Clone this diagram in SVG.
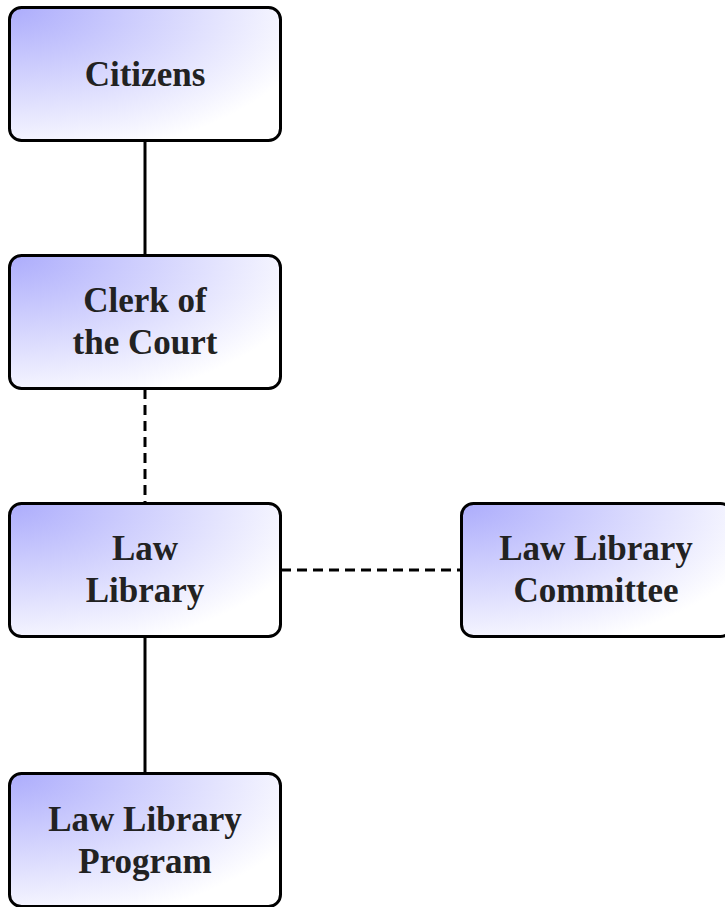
<svg xmlns="http://www.w3.org/2000/svg" width="725" height="907" viewBox="0 0 725 907">
<style>
.box{fill:url(#g);stroke:#000;stroke-width:3}
.t{font-family:"Liberation Serif","Times New Roman",serif;font-weight:bold;font-size:35px;fill:#222;text-anchor:middle}
.c{stroke:#000;stroke-width:3;fill:none}
.d{stroke-dasharray:10,6}
</style>
<defs>
<radialGradient id="g" cx="0" cy="0" fx="0" fy="0" r="1.15">
<stop offset="0" stop-color="#acacfc"/>
<stop offset="1" stop-color="#ffffff"/>
</radialGradient>
</defs>
<g id="connectors">
<line class="c" x1="145" y1="141" x2="145" y2="255"/>
<line class="c d" x1="145" y1="389" x2="145" y2="503"/>
<line class="c" x1="145" y1="637" x2="145" y2="773"/>
<line class="c d" x1="281" y1="570" x2="461" y2="570"/>
</g>
<g id="citizens">
<rect class="box" x="9.5" y="7.5" width="271" height="133" rx="12"/>
<text class="t" x="145" y="86">Citizens</text>
</g>
<g id="clerk">
<rect class="box" x="9.5" y="255.5" width="271" height="133" rx="12"/>
<text class="t" x="145" y="312">Clerk of</text>
<text class="t" x="145" y="354">the Court</text>
</g>
<g id="lawlibrary">
<rect class="box" x="9.5" y="503.5" width="271" height="133" rx="12"/>
<text class="t" x="145" y="560">Law</text>
<text class="t" x="145" y="602">Library</text>
</g>
<g id="committee">
<rect class="box" x="461.5" y="503.5" width="271" height="133" rx="12"/>
<text class="t" x="596" y="560">Law Library</text>
<text class="t" x="596" y="602">Committee</text>
</g>
<g id="program">
<rect class="box" x="9.5" y="773.5" width="271" height="133" rx="12"/>
<text class="t" x="145" y="831">Law Library</text>
<text class="t" x="145" y="873">Program</text>
</g>
</svg>
